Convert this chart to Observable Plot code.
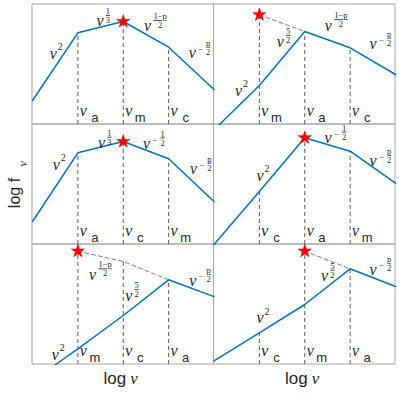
<!DOCTYPE html>
<html><head><meta charset="utf-8">
<script src="https://cdn.jsdelivr.net/npm/d3@7"></script>
<script src="https://cdn.jsdelivr.net/npm/@observablehq/plot@0.6"></script>
<style>
body{margin:0;background:#fff;}
g[aria-description="frac-num"] text{ text-decoration: underline; }
</style></head><body><div id="chart"></div>
<script>
// ---- data (per panel, in log-units inside each panel: logNu 0..4, logF 0..12)
const panelRow = [0, 0, 1, 1, 2, 2];
const panelCol = [0, 1, 0, 1, 0, 1];
const breakLetters = [["a","m","c"],["m","a","c"],["a","c","m"],["c","a","m"],["m","c","a"],["c","m","a"]];
const spectrumLogNu = [[0,1,2,3,4],[0.12,1,2,3,4],[0,1,2,3,4],[0,1,2,3,4],[0.51,1,2,3,4],[0,1,2,3,4]];
const spectrumLogF = [[2.4,9.17,10.3,7.73,3.5],[0,3.9,9.3,7.67,5.0],[2.3,9.17,10.3,8.57,4.3],[0,5.3,10.67,9.33,6.13],[0,1.57,4.9,8.47,6.79],[0.37,3.17,6.0,9.57,7.8]];
const peakLogNu = [2, 1, 2, 2, 1, 2];
const peakLogF = [10.3, 10.97, 10.3, 10.67, 11.33, 11.33];
const hiddenLogNu = [[],[1,2],[],[],[1,2,3],[2,3]];
const hiddenLogF = [[],[10.97,9.3],[],[],[11.33,10.3,8.47],[11.33,9.57]];
const slopePanel = [0,0,0,0, 1,1,1,1, 2,2,2,2, 3,3,3, 4,4,4,4, 5,5,5];
const slopeLogNu = [0.46,1.486,2.535,3.52, 0.54,1.46,2.52,3.505, 0.526,1.52,2.515,3.547, 1.015,2.516,3.505, 0.50,2.12,1.326,3.53, 1.015,2.435,3.505];
const slopeLogF = [7.07,10.32,9.82,7.15, 3.4,8.3,9.9,8.07, 7.98,10.15,10.07,7.57, 6.9,10.65,8.32, 0.95,6.9,8.98,8.4, 4.62,8.85,9.48];
const slopeExponent = ["2","1/3","(1−p)/2","−p/2", "2","5/2","(1−p)/2","−p/2", "2","1/3","−1/2","−p/2", "2","−1/2","−p/2", "2","5/2","(1−p)/2","−p/2", "2","5/2","−p/2"];
const xTitleParts = ["log", "ν"];
const yTitleParts = ["log f", "ν"];

// ---- helpers
const SERIF = "'Liberation Serif','DejaVu Serif',serif";
const SANS = "'Liberation Sans',Arial,sans-serif";
const INK = "#262626";
const px = (p, v) => v + 4 * panelCol[p];
const py = (p, v) => v + 12 * (2 - panelRow[p]);
const panels = d3.range(6);

const frames = panels.map(p => ({x1: px(p,0), x2: px(p,4), y1: py(p,0), y2: py(p,12)}));
const spectrum = panels.flatMap(p => spectrumLogNu[p].map((v,i) => ({p, x: px(p,v), y: py(p, spectrumLogF[p][i])})));
const hidden = panels.flatMap(p => hiddenLogNu[p].map((v,i) => ({p, x: px(p,v), y: py(p, hiddenLogF[p][i])})));
const peaks = panels.map(p => ({x: px(p, peakLogNu[p]), y: py(p, peakLogF[p])}));
const breaks = panels.flatMap(p => breakLetters[p].map((letter, i) => {
  const nu = i + 1;
  const tops = [];
  spectrumLogNu[p].forEach((v,j) => { if (v === nu) tops.push(spectrumLogF[p][j]); });
  hiddenLogNu[p].forEach((v,j) => { if (v === nu) tops.push(hiddenLogF[p][j]); });
  if (peakLogNu[p] === nu) tops.push(peakLogF[p]);
  return {letter, x: px(p, nu), y1: py(p, 0), y2: py(p, d3.max(tops))};
}));
const labels = slopeExponent.map((e, i) => {
  const p = slopePanel[i];
  const sign = e.startsWith("−");
  const body = sign ? e.slice(1) : e;
  const [num, den] = body.split("/");
  return {x: px(p, slopeLogNu[i]), y: py(p, slopeLogF[i]), sign, num: num.replace(/[()]/g, ""), den: den || ""};
});
const plain = labels.filter(d => !d.den);
const fracNarrow = labels.filter(d => d.den && !d.sign && d.num.length === 1);
const fracWide = labels.filter(d => d.den && !d.sign && d.num.length > 1);
const fracSigned = labels.filter(d => d.den && d.sign);

function fracMarks(rows, dx) {
  return [
    Plot.text(rows, {x: "x", y: "y", text: "num", dx, dy: -10, fontSize: 8.5, fontFamily: SERIF, fill: INK, textAnchor: "middle", ariaDescription: "frac-num"}),
    Plot.text(rows, {x: "x", y: "y", text: "den", dx, dy: -1, fontSize: 8.5, fontFamily: SERIF, fill: INK, textAnchor: "middle"})
  ];
}

const chart = Plot.plot({
  width: 399, height: 396,
  marginLeft: 32, marginRight: 4, marginTop: 4, marginBottom: 32,
  x: {domain: [0, 8], axis: null},
  y: {domain: [0, 36], axis: null},
  style: {background: "#fff", overflow: "visible"},
  marks: [
    Plot.rect(frames, {x1: "x1", x2: "x2", y1: "y1", y2: "y2", fill: "none", stroke: "#a6a6a6", strokeWidth: 1}),
    Plot.ruleX(breaks, {x: "x", y1: "y1", y2: "y2", stroke: "#5a5a5a", strokeWidth: 1, strokeDasharray: "4,3"}),
    Plot.line(hidden, {x: "x", y: "y", z: "p", stroke: "#5a5a5a", strokeWidth: 0.8, strokeDasharray: "4,3"}),
    Plot.line(spectrum, {x: "x", y: "y", z: "p", stroke: "#0072BD", strokeWidth: 1.5}),
    Plot.dot(peaks, {x: "x", y: "y", symbol: "star", r: 4.1, fill: "#ff0000", stroke: "#d40000", strokeWidth: 0.6}),
    // break-frequency labels
    Plot.text(breaks, {x: "x", y: "y1", text: () => "ν", dx: 5.5, dy: -13.5, fontSize: 16, fontStyle: "italic", fontFamily: SERIF, fill: INK, textAnchor: "middle"}),
    Plot.text(breaks, {x: "x", y: "y1", text: "letter", dx: 17, dy: -7, fontSize: 13, fontFamily: SANS, fill: INK, textAnchor: "middle"}),
    // slope labels
    Plot.text(labels, {x: "x", y: "y", text: () => "ν", fontSize: 16, fontStyle: "italic", fontFamily: SERIF, fill: INK, textAnchor: "middle"}),
    Plot.text(plain, {x: "x", y: "y", text: "num", dx: 7, dy: -7, fontSize: 10, fontFamily: SERIF, fill: INK, textAnchor: "middle"}),
    Plot.text(fracSigned, {x: "x", y: "y", text: () => "−", dx: 8.5, dy: -4, fontSize: 8.5, fontFamily: SERIF, fill: INK, textAnchor: "middle"}),
    ...fracMarks(fracNarrow, 8),
    ...fracMarks(fracWide, 12.5),
    ...fracMarks(fracSigned, 16),
    // axis titles
    Plot.text([0, 1], {x: c => 4 * c + 2, frameAnchor: "bottom", text: () => xTitleParts[0], textAnchor: "end", lineAnchor: "bottom", dx: 3, dy: 19, fontSize: 17, fontFamily: SANS, fill: INK}),
    Plot.text([0, 1], {x: c => 4 * c + 2, frameAnchor: "bottom", text: () => xTitleParts[1], textAnchor: "start", lineAnchor: "bottom", dx: 7, dy: 19, fontSize: 17, fontStyle: "italic", fontFamily: SERIF, fill: INK}),
    Plot.text([yTitleParts[0]], {frameAnchor: "left", text: d => d, rotate: -90, textAnchor: "middle", lineAnchor: "bottom", dx: -12.7, dy: 8.5, fontSize: 16, fontFamily: SANS, fill: INK}),
    Plot.text([yTitleParts[1]], {frameAnchor: "left", text: d => d, rotate: -90, textAnchor: "middle", lineAnchor: "bottom", dx: -6, dy: -20.7, fontSize: 12, fontStyle: "italic", fontFamily: SERIF, fill: INK})
  ]
});
document.getElementById("chart").append(chart);
</script></body></html>
